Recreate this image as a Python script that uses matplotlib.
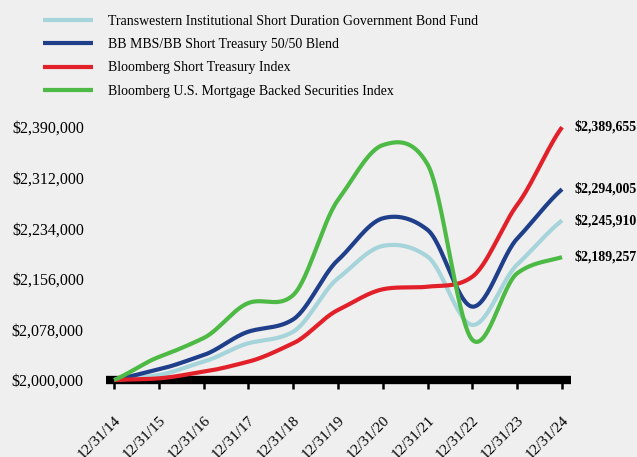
import matplotlib
matplotlib.use('Agg')
import matplotlib.pyplot as plt
import numpy as np

plt.rcParams['font.family'] = ['Liberation Serif', 'DejaVu Serif']

dates = ["12/31/14", "12/31/15", "12/31/16", "12/31/17", "12/31/18", "12/31/19",
         "12/31/20", "12/31/21", "12/31/22", "12/31/23", "12/31/24"]

fund = [2000000, 2007700, 2028300, 2056600, 2074500, 2156800,
        2206600, 2190000, 2084800, 2178000, 2245910]
blend = [2000000, 2016500, 2038500, 2074500, 2093500, 2185000,
         2249200, 2231200, 2113000, 2218000, 2294005]
treasury = [2000000, 2002500, 2012800, 2028300, 2056600, 2107900,
            2139800, 2143800, 2159300, 2270000, 2389655]
mbs = [2000000, 2035450, 2064700, 2118700, 2131000, 2277500,
       2362000, 2332000, 2061700, 2164500, 2189257]

names = ["Transwestern Institutional Short Duration Government Bond Fund",
         "BB MBS/BB Short Treasury 50/50 Blend",
         "Bloomberg Short Treasury Index",
         "Bloomberg U.S. Mortgage Backed Securities Index"]
colors = ["#a6d4db", "#203f8b", "#e2202a", "#4dba45"]

yticks = [2000000, 2078000, 2156000, 2234000, 2312000, 2390000]


def smooth(ys, n=30, tension=0.8):
    # cardinal-spline curve through the points, like the smoothed lines
    ys = np.asarray(ys, dtype=float)
    xs = np.arange(len(ys), dtype=float)
    m = np.gradient(ys, xs) * tension
    out_x, out_y = [], []
    for i in range(len(ys) - 1):
        t = np.linspace(0, 1, n, endpoint=False)
        h00 = 2*t**3 - 3*t**2 + 1
        h10 = t**3 - 2*t**2 + t
        h01 = -2*t**3 + 3*t**2
        h11 = t**3 - t**2
        out_x.append(xs[i] + t)
        out_y.append(h00*ys[i] + h10*m[i] + h01*ys[i+1] + h11*m[i+1])
    out_x.append([xs[-1]])
    out_y.append([ys[-1]])
    return np.concatenate(out_x), np.concatenate(out_y)


bg = "#efefef"
fig = plt.figure(figsize=(6.37, 4.57), dpi=100, facecolor=bg)
ax = fig.add_axes([0.1664, 0.1685, 0.730, 0.568], facecolor=bg)

series = [fund, blend, treasury, mbs]
handles = []
for vals, c, nm in zip(series, colors, names):
    sx, sy = smooth(vals)
    h, = ax.plot(sx, sy, color=c, lw=3, zorder=3, clip_on=False,
                 solid_capstyle='butt', label=nm)
    handles.append(h)

for vals in series:
    v = vals[-1]
    ax.text(10.27, v, "${:,}".format(v), va='center', ha='left',
            fontsize=10, fontweight='bold', clip_on=False)

ax.set_xlim(-0.18, 10.2)
ax.set_ylim(2000000, 2400000)
ax.set_xticks(range(len(dates)))
ax.set_xticklabels(dates, rotation=45, ha='right', rotation_mode='anchor',
                   fontsize=11)
ax.set_yticks(yticks)
ax.set_yticklabels(["${:,}".format(v) for v in yticks], fontsize=11.5)

for s in ['top', 'right', 'left']:
    ax.spines[s].set_visible(False)
ax.spines['bottom'].set_linewidth(6)
ax.spines['bottom'].set_capstyle('butt')
ax.tick_params(axis='x', length=6.5, width=1.8, pad=18, color='black')
ax.tick_params(axis='y', length=0, pad=16)

fig.legend(handles, names, loc='upper left', bbox_to_anchor=(0.0675, 0.968),
           frameon=False, fontsize=10, handlelength=3.6, handletextpad=1.1,
           labelspacing=0.75, borderpad=0, borderaxespad=0)

plt.savefig("out.png", dpi=100, facecolor=bg)
